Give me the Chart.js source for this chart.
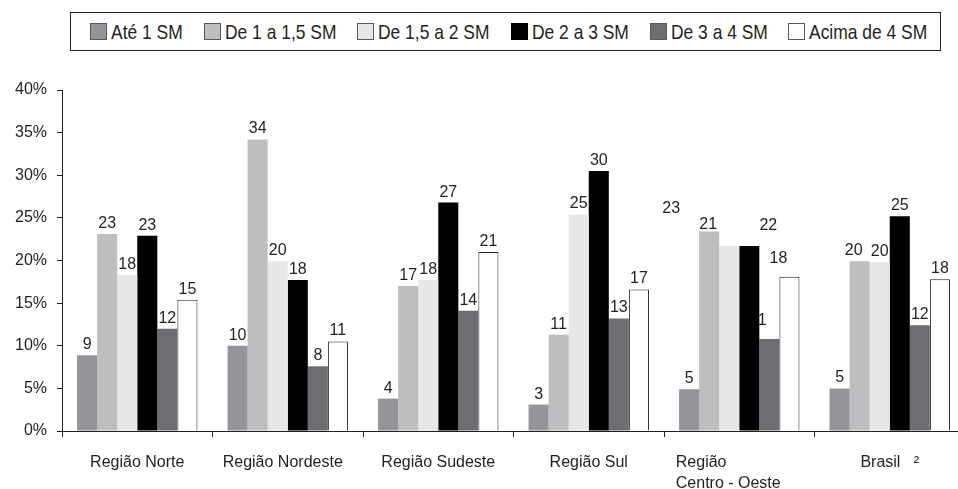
<!DOCTYPE html>
<html lang="pt">
<head>
<meta charset="utf-8">
<script src="https://cdn.jsdelivr.net/npm/chart.js@4.4.0/dist/chart.umd.min.js"></script>
<style>
  html, body { margin: 0; padding: 0; background: #fff; overflow: hidden; }
  #wrap { position: relative; width: 965px; height: 489px; }
  #legend {
    position: absolute; left: 70px; top: 12px; width: 871px; height: 39px;
    box-sizing: border-box; border: 1px solid #231f20; background: #fff;
    display: flex; align-items: center; padding-left: 19px; gap: 21px;
    font: 21px "Liberation Sans", sans-serif; color: #231f20;
  }
  .item { display: flex; align-items: center; white-space: nowrap; }
  .sw { width: 15px; height: 15px; border: 1px solid #58595b; margin-right: 4px; flex: none; }
  .txt { display: inline-block; transform: scaleX(0.83); transform-origin: 0 50%; }
</style>
</head>
<body>
<div id="wrap">
  <canvas id="grafico" width="965" height="489"></canvas>
  <div id="legend"></div>
</div>
<script>
// regiões
const categories = ["Região Norte", "Região Nordeste", "Região Sudeste", "Região Sul", ["Região", "Centro - Oeste"], "Brasil   ²"];
const seriesNames = ["Até 1 SM", "De 1 a 1,5 SM", "De 1,5 a 2 SM", "De 2 a 3 SM", "De 3 a 4 SM", "Acima de 4 SM"];

// percentuais (altura das barras)
const ate1 = [8.9, 10.0, 3.8, 3.1, 4.9, 5.0];
const de1a15 = [23.1, 34.2, 17.0, 11.3, 23.4, 19.9];
const de15a2 = [18.3, 19.9, 17.7, 25.4, 21.7, 19.8];
const de2a3 = [22.9, 17.7, 26.8, 30.5, 21.7, 25.2];
const de3a4 = [12.0, 7.6, 14.1, 13.2, 10.8, 12.4];
const acima4 = [15.4, 10.5, 21.0, 16.6, 18.1, 17.8];

// rótulos impressos sobre as barras
const rotAte1 = [9, 10, 4, 3, 5, 5];
const rotDe1a15 = [23, 34, 17, 11, 23, 20];
const rotDe15a2 = [18, 20, 18, 25, 21, 20];
const rotDe2a3 = [23, 18, 27, 30, 22, 25];
const rotDe3a4 = [12, 8, 14, 13, 11, 12];
const rotAcima4 = [15, 11, 21, 17, 18, 18];

const yTicks = [0, 5, 10, 15, 20, 25, 30, 35, 40];

const colors = ["#939598", "#bcbec0", "#e6e7e8", "#000000", "#6d6e71", "#ffffff"];
const values = [ate1, de1a15, de15a2, de2a3, de3a4, acima4];
const labels = [rotAte1, rotDe1a15, rotDe15a2, rotDe2a3, rotDe3a4, rotAcima4];

// deslocamento dos rótulos no original (categoria -> série -> [dx, dy])
const labelShift = {
  4: { 1: [-38, -13], 2: [-21, -11], 3: [19, -10], 4: [-11, -8], 5: [-11, -8] },
  5: { 1: [-6, 0] }
};
const catShift = [0, -5, 0, 0, -11, 0];

const datasets = seriesNames.map((name, i) => ({
  label: name,
  data: values[i],
  printed: labels[i],
  backgroundColor: colors[i],
  borderColor: "#231f20",
  borderWidth: i === 5 ? 1 : 0,
  categoryPercentage: 0.8,
  barPercentage: 1.0
}));

// legenda em html com moldura (texto condensado)
const legendEl = document.getElementById("legend");
seriesNames.forEach((name, i) => {
  const item = document.createElement("div");
  item.className = "item";
  const sw = document.createElement("span");
  sw.className = "sw";
  sw.style.background = colors[i];
  if (i === 3) sw.style.borderColor = "#000";
  const txt = document.createElement("span");
  txt.className = "txt";
  txt.textContent = name;
  item.appendChild(sw);
  item.appendChild(txt);
  legendEl.appendChild(item);
  txt.style.marginRight = (-0.17 * txt.offsetWidth) + "px";
});

const barLabels = {
  id: "barLabels",
  beforeDatasetsDraw(chart) {
    const ctx = chart.ctx;
    ctx.save();
    ctx.font = '16px "Liberation Sans"';
    ctx.fillStyle = "#231f20";
    ctx.textAlign = "center";
    chart.data.datasets.forEach((ds, i) => {
      chart.getDatasetMeta(i).data.forEach((bar, j) => {
        const off = (labelShift[j] && labelShift[j][i]) || [0, 0];
        ctx.fillText(String(ds.printed[j]), bar.x + off[0], bar.y - 6 + off[1]);
      });
    });
    ctx.restore();
  }
};

const xLabels = {
  id: "xLabels",
  afterDraw(chart) {
    const ctx = chart.ctx;
    const x = chart.scales.x;
    const base = chart.chartArea.bottom + 36;
    ctx.save();
    ctx.font = '16px "Liberation Sans"';
    ctx.fillStyle = "#231f20";
    categories.forEach((c, j) => {
      const lines = Array.isArray(c) ? c : [c];
      const cx = x.getPixelForValue(j) + catShift[j];
      const w = Math.max(...lines.map(l => ctx.measureText(l).width));
      lines.forEach((l, k) => {
        if (lines.length > 1) {
          ctx.textAlign = "left";
          ctx.fillText(l, cx - w / 2, base + 21 * k);
        } else {
          ctx.textAlign = "center";
          ctx.fillText(l, cx, base);
        }
      });
    });
    ctx.restore();
  }
};

new Chart(document.getElementById("grafico"), {
  type: "bar",
  data: { labels: categories, datasets: datasets },
  plugins: [barLabels, xLabels],
  options: {
    responsive: false,
    animation: false,
    layout: { padding: { top: 90, left: 0, right: 0, bottom: 52 } },
    plugins: { legend: { display: false }, tooltip: { enabled: false } },
    scales: {
      x: {
        grid: { drawOnChartArea: false, drawTicks: true, tickLength: 6, offset: true, color: "#231f20" },
        border: { color: "#231f20", width: 1 },
        ticks: { display: false }
      },
      y: {
        min: 0,
        max: 40,
        afterFit: s => { s.width = 62; },
        afterBuildTicks: s => { s.ticks = yTicks.map(v => ({ value: v })); },
        grid: { drawOnChartArea: false, drawTicks: true, tickLength: 5, color: "#231f20" },
        border: { color: "#231f20", width: 1 },
        ticks: {
          padding: 10,
          color: "#231f20",
          font: { family: "Liberation Sans", size: 16 },
          callback: v => v + "%"
        }
      }
    }
  }
});
</script>
</body>
</html>
